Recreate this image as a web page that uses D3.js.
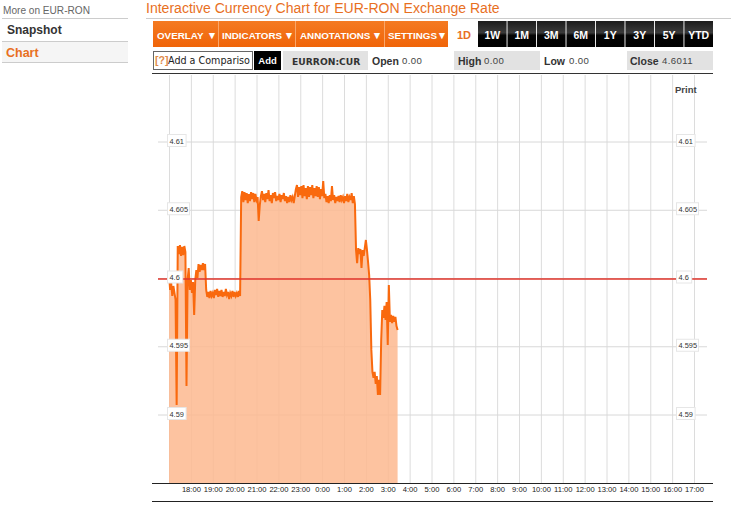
<!DOCTYPE html>
<html>
<head>
<meta charset="utf-8">
<script src="https://d3js.org/d3.v7.min.js"></script>
<style>
  html, body { margin: 0; padding: 0; background: #fff; }
  svg { display: block; font-family: "Liberation Sans", Arial, sans-serif; }
</style>
</head>
<body>
<div id="chart"></div>
<script>
const width = 733, height = 506;

// axis values
const yTicks = [4.61, 4.605, 4.6, 4.595, 4.59];
const hourLabels = ["18:00","19:00","20:00","21:00","22:00","23:00","0:00","1:00","2:00","3:00","4:00","5:00","6:00","7:00","8:00","9:00","10:00","11:00","12:00","13:00","14:00","15:00","16:00","17:00"];
const referenceLevel = 4.6;
const sessionStart = -1;       // 17:00, one hour before first label
const sampleHours = 0.05;      // one reading every 3 minutes

// readings
const prices = [
  4.60048,4.59916,4.59967,4.59872,4.59945,4.59894,4.59843,4.59074,4.60238,4.60179,
  4.60245,4.60165,4.60231,4.60172,4.60238,4.60194,4.59213,4.59989,4.60077,4.59916,
  4.59989,4.59894,4.59974,4.59733,4.59989,4.60062,4.60004,4.60106,4.60048,4.60099,
  4.60062,4.60113,4.60062,4.60106,
  4.59916,4.59865,4.59901,4.59857,4.59909,4.59872,4.59894,4.59857,4.59916,4.59879,
  4.59923,4.59865,4.59909,4.59872,4.59916,4.59865,4.59901,4.59872,4.59923,4.59879,
  4.59901,4.59850,4.59894,4.59872,4.59909,4.59865,4.59901,4.59872,4.59894,4.59865,
  4.59909,4.59872,
  4.60597,4.60640,4.60560,4.60633,4.60575,4.60626,4.60553,4.60619,4.60567,4.60633,
  4.60582,4.60626,4.60560,4.60619,4.60575,4.60597,4.60421,4.60538,
  4.60604,4.60640,4.60575,4.60619,4.60560,4.60626,4.60582,4.60648,4.60567,4.60611,
  4.60553,4.60626,4.60589,4.60633,4.60567,4.60604,4.60575,4.60619,4.60560,4.60611,
  4.60582,4.60626,4.60567,4.60604,4.60553,4.60597,4.60560,4.60611,4.60575,4.60597,
  4.60553,4.60604,
  4.60655,4.60684,4.60597,4.60670,4.60611,4.60677,4.60589,4.60684,4.60604,4.60662,
  4.60582,4.60677,4.60597,4.60670,4.60611,4.60684,4.60589,4.60662,4.60604,4.60677,
  4.60597,4.60670,4.60582,4.60655,
  4.60604,4.60714,4.60589,4.60619,4.60560,4.60604,4.60553,4.60611,4.60567,4.60677,
  4.60575,4.60611,4.60553,4.60597,4.60567,4.60604,4.60560,4.60611,4.60575,4.60597,
  4.60553,4.60604,4.60567,4.60619,4.60560,4.60597,4.60575,4.60626,4.60553,4.60604,
  4.60545,
  4.60209,4.60113,4.60223,4.60179,4.60216,4.60077,4.60209,4.60165,4.60223,4.60282,
  4.60209,4.60121,4.60026,4.59843,4.59477,4.59316,4.59272,4.59316,4.59228,4.59286,
  4.59147,4.59257,4.59147,4.59550,4.59769,4.59711,4.59799,4.59696,4.59828,4.59513,
  4.59952,4.59682,4.59733,4.59674,4.59726,4.59682,4.59718,4.59652,4.59623
];

// page furniture text
const menuButtons = ["OVERLAY","INDICATORS","ANNOTATIONS","SETTINGS"];
const rangeButtons = ["1W","1M","3M","6M","1Y","3Y","5Y","YTD"];

const orange = "#e8701f";
const svg = d3.select("#chart").append("svg")
  .attr("width", width).attr("height", height);

const defs = svg.append("defs");
const gradOrange = defs.append("linearGradient").attr("id", "gOrange").attr("x2", 0).attr("y2", 1);
gradOrange.append("stop").attr("offset", 0).attr("stop-color", "#f47a22");
gradOrange.append("stop").attr("offset", 1).attr("stop-color", "#f06408");
const gradBlack = defs.append("linearGradient").attr("id", "gBlack").attr("x2", 0).attr("y2", 1);
gradBlack.append("stop").attr("offset", 0).attr("stop-color", "#1c1c1c");
gradBlack.append("stop").attr("offset", 0.45).attr("stop-color", "#3a3a3a");
gradBlack.append("stop").attr("offset", 0.55).attr("stop-color", "#050505");
gradBlack.append("stop").attr("offset", 1).attr("stop-color", "#000");

function label(x, y, text, size, color, weight, anchor) {
  return svg.append("text").attr("x", x).attr("y", y).text(text)
    .attr("font-size", size).attr("fill", color)
    .attr("font-weight", weight || "normal")
    .attr("text-anchor", anchor || "start");
}
function box(x, y, w, h, fill) {
  return svg.append("rect").attr("x", x).attr("y", y).attr("width", w).attr("height", h).attr("fill", fill);
}
function rule(x1, x2, y, color) {
  svg.append("line").attr("x1", x1).attr("x2", x2).attr("y1", y + 0.5).attr("y2", y + 0.5).attr("stroke", color);
}

// left menu
label(3, 14, "More on EUR-RON", 10.1, "#666");
rule(2, 128, 18, "#ccc");
label(7, 34, "Snapshot", 12, "#333", "bold");
box(2, 42, 126, 20, "#f5f5f5");
rule(2, 128, 41, "#ccc");
label(6, 57, "Chart", 12.5, orange, "bold");
rule(2, 128, 62, "#ccc");

// title
label(146, 13, "Interactive Currency Chart for EUR-RON Exchange Rate", 14.05, orange);
rule(146, 731, 18, "#ccc");

// toolbar
box(153, 21, 295, 26, "url(#gOrange)");
const menuX = [157, 222, 300, 388];
const menuArrow = [212, 289, 377, 442];
const menuSep = [218, 295, 384];
menuSep.forEach(x => svg.append("line").attr("x1", x + 0.5).attr("x2", x + 0.5).attr("y1", 21).attr("y2", 47).attr("stroke", "#f9a66a"));
menuButtons.forEach((d, i) => {
  label(menuX[i], 39, d, 9.8, "#fff", "bold");
  label(menuArrow[i], 38.5, "\u25BC", 10.5, "#fff", "bold", "middle");
});
label(464, 39, "1D", 11, orange, "bold", "middle");

const rangeX = d3.scaleBand().domain(rangeButtons).range([478, 713]).paddingInner(0.03);
rangeButtons.forEach(d => {
  box(rangeX(d), 21, rangeX.bandwidth(), 26, "url(#gBlack)");
  label(rangeX(d) + rangeX.bandwidth() / 2, 39, d, 10.5, "#fff", "bold", "middle");
});

// second row
svg.append("rect").attr("x", 153.5).attr("y", 51.5).attr("width", 99).attr("height", 18)
  .attr("fill", "#fff").attr("stroke", "#666");
label(155, 64, "[?]", 10.5, "#e08a4a", "bold");
label(168, 64, "Add a Compariso", 10.5, "#222").style("font-family", "'DejaVu Sans'").attr("font-size", 9.6);
box(254, 51, 27, 19, "#000");
label(267.5, 64, "Add", 9.5, "#fff", "bold", "middle");
box(283, 51, 85, 19, "#e2e2e2");
label(292, 65, "EURRON:CUR", 10, "#333", "bold").style("font-family", "'DejaVu Sans'").attr("font-size", 9.2);
label(372, 65, "Open", 10.5, "#333", "bold");
label(402, 64, "0.00", 9.6, "#444").attr("letter-spacing", 0.4);
box(454, 51, 86, 19, "#e2e2e2");
label(458, 65, "High", 10.5, "#333", "bold");
label(484, 64, "0.00", 9.6, "#444").attr("letter-spacing", 0.4);
label(544, 65, "Low", 10.5, "#333", "bold");
label(569, 64, "0.00", 9.6, "#444").attr("letter-spacing", 0.4);
box(627, 51, 86, 19, "#e2e2e2");
label(630, 65, "Close", 10.5, "#333", "bold");
label(662, 64, "4.6011", 9.6, "#444").attr("letter-spacing", 0.4);
rule(152, 713, 73, "#333");

// chart scales
const x = d3.scaleLinear().domain([sessionStart, 23]).range([169, 694]);
const y = d3.scaleLinear().domain([4.59, 4.61]).range([415, 142]);
const plotBottom = 483, plotTop = 75;

const series = prices.map((p, i) => ({ h: sessionStart + i * sampleHours, p: p }));

// grid, vertical lines at each hour and session start
const hourValues = [sessionStart].concat(d3.range(hourLabels.length));
svg.append("g").selectAll("line").data(hourValues).join("line")
  .attr("x1", d => x(d) + 0.5).attr("x2", d => x(d) + 0.5)
  .attr("y1", plotTop).attr("y2", plotBottom)
  .attr("stroke", "#dcdcdc");
svg.append("g").selectAll("line").data(yTicks).join("line")
  .attr("x1", 158).attr("x2", 707)
  .attr("y1", d => y(d)).attr("y2", d => y(d))
  .attr("stroke", "#d8d8d8");

// area and price line
const area = d3.area().x(d => x(d.h)).y0(plotBottom).y1(d => y(d.p));
const line = d3.line().x(d => x(d.h)).y(d => y(d.p));
svg.append("path").datum(series).attr("d", area)
  .attr("fill", "#fdb98f").attr("fill-opacity", 0.85);
svg.append("path").datum(series).attr("d", line)
  .attr("fill", "none").attr("stroke", "#f9690e").attr("stroke-width", 2);

// reference line
svg.append("line").attr("x1", 158).attr("x2", 707)
  .attr("y1", y(referenceLevel) + 0.5).attr("y2", y(referenceLevel) + 0.5)
  .attr("stroke", "#e0352b").attr("stroke-width", 1.4);

// boxed y labels, both sides
const tickFormat = d3.format("");
[167, 676].forEach(left => {
  const g = svg.append("g").selectAll("g").data(yTicks).join("g")
    .attr("transform", d => `translate(${left},${y(d)})`);
  g.append("rect").attr("x", 0.5).attr("y", -7.5)
    .attr("width", d => tickFormat(d).length * 3.4 + 5).attr("height", 12)
    .attr("fill", "#fff").attr("stroke", "#e6e6e6");
  g.append("text").attr("x", 2.5).attr("y", 1.5)
    .attr("font-size", 7.4).attr("fill", "#333")
    .text(d => tickFormat(d));
});

label(675, 93, "Print", 9.5, "#444", "bold");

// time axis
const axis = d3.axisBottom(x)
  .tickValues(d3.range(hourLabels.length))
  .tickFormat(d => hourLabels[d])
  .tickSize(0).tickPadding(4);
const gx = svg.append("g").attr("transform", `translate(0,${plotBottom})`).call(axis);
gx.select(".domain").remove();
gx.selectAll("text").attr("font-size", 7.6).attr("fill", "#222").attr("font-family", "'Liberation Sans'");
rule(152, 713, plotBottom, "#222");
rule(152, 713, 501, "#222");
</script>
</body>
</html>
